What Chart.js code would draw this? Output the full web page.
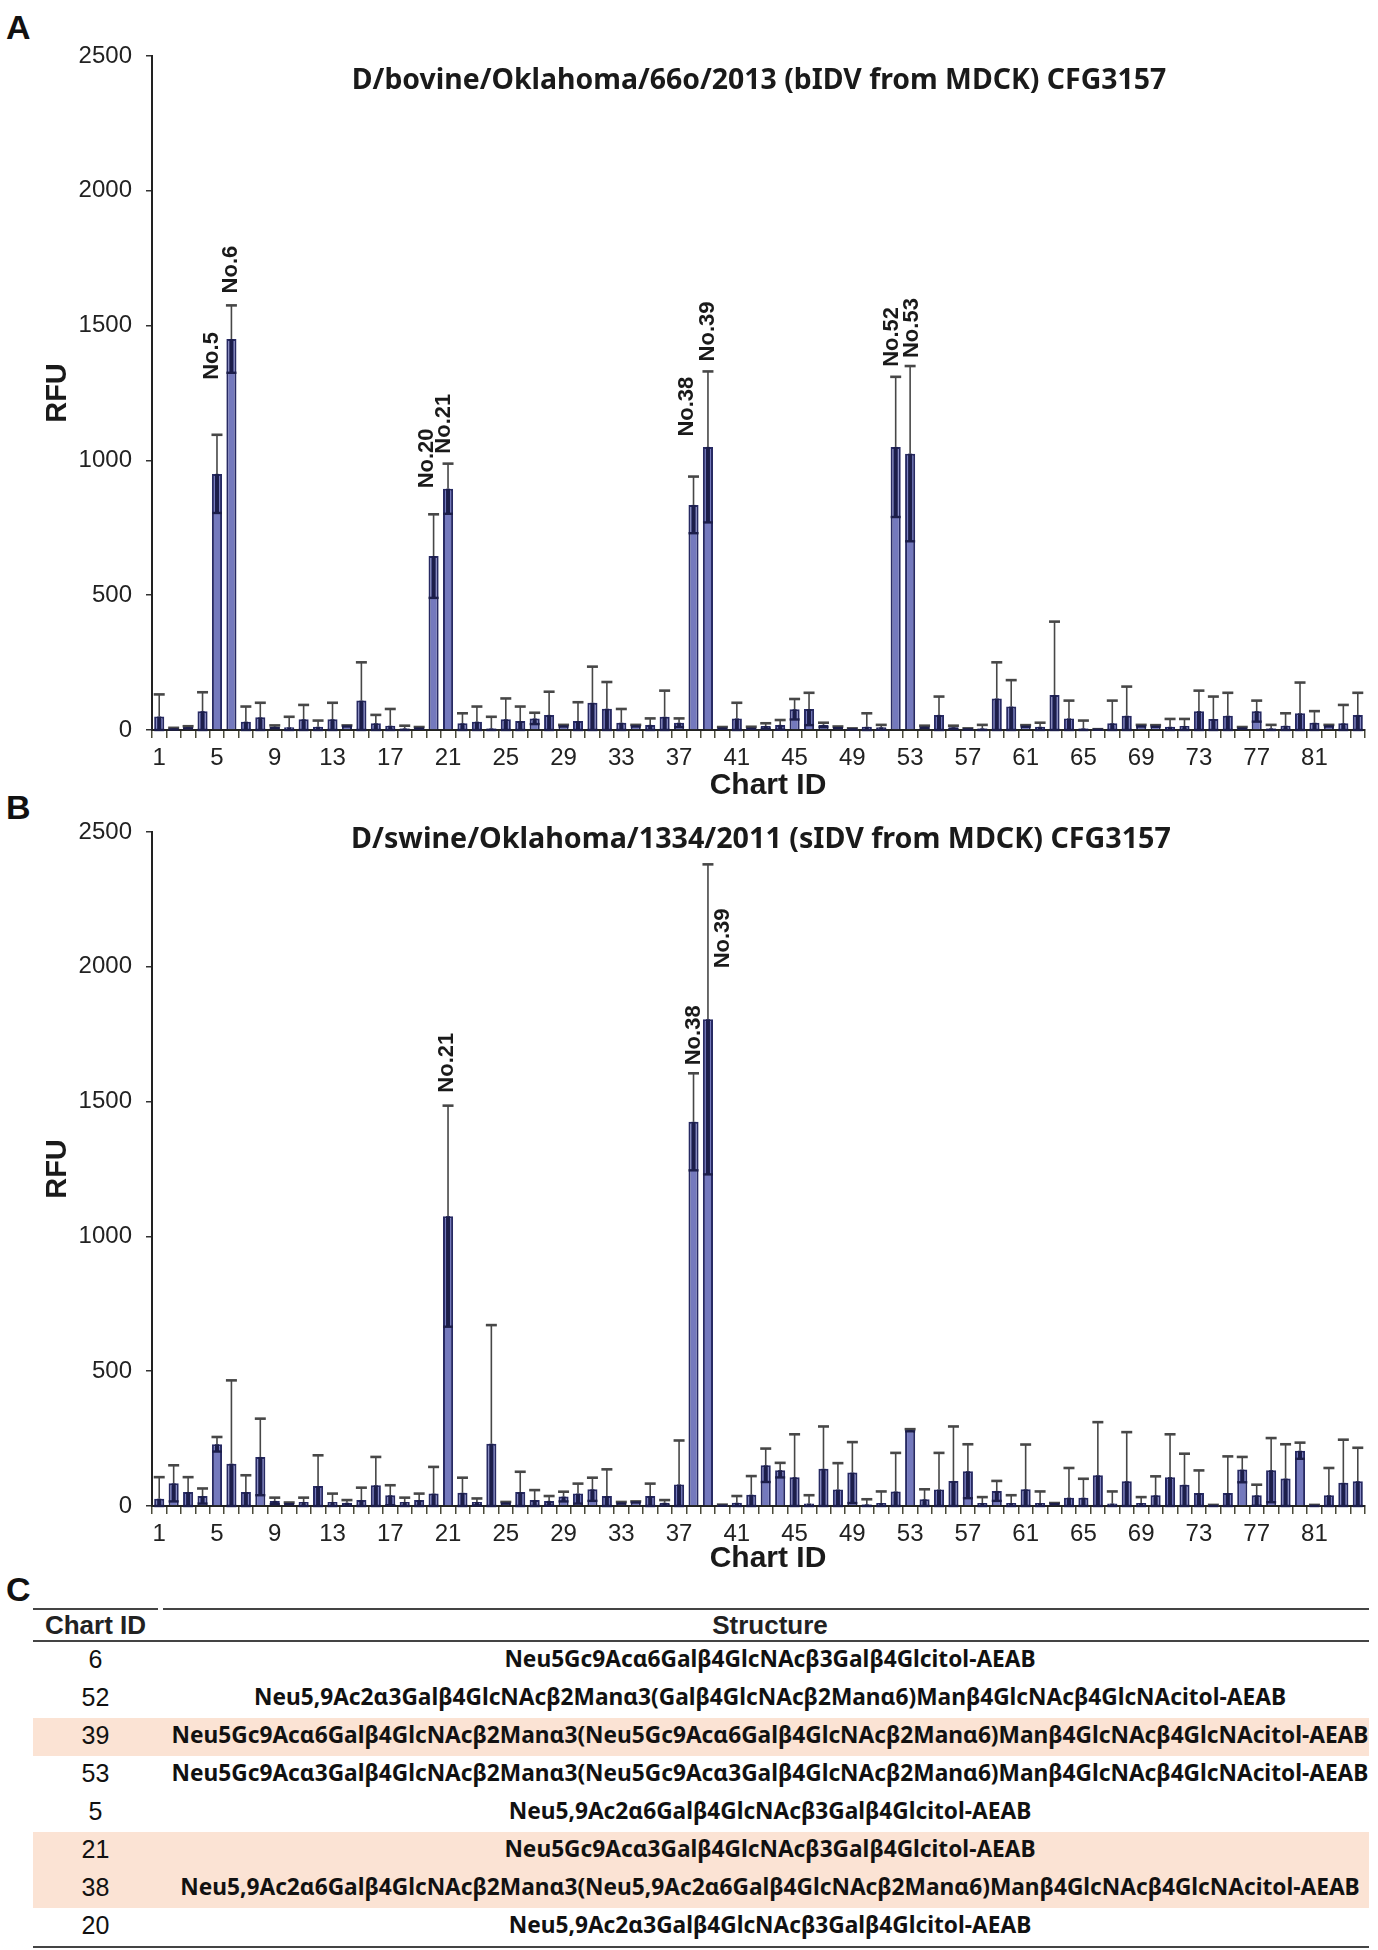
<!DOCTYPE html>
<html>
<head>
<meta charset="utf-8">
<title>CFG3157 glycan array</title>
<script src="https://cdn.jsdelivr.net/npm/chart.js@4.4.1/dist/chart.umd.min.js"></script>
<style>
  body { margin: 0; background: #fff; width: 1378px; height: 1950px; position: relative; overflow: hidden; }
  canvas { position: absolute; left: 0; }
  #chartA { top: 0; }
  #chartB { top: 800px; }
  .letter { position: absolute; left: 6px; font: bold 34px 'Liberation Sans', Arial, sans-serif; color: #111; line-height: 1; }
  .topline { position: absolute; top: 1608px; height: 2px; background: #444; }
  #tbl { position: absolute; left: 33px; top: 1610px; width: 1336px; border-collapse: collapse; table-layout: fixed; }
  #tbl th { font: bold 26px 'Liberation Sans', Arial, sans-serif; color: #222; height: 30px; padding: 0; line-height: 30px; white-space: nowrap; border-bottom: 2px solid #444; }
  #tbl td { height: 34px; padding: 0 0 4px 0; line-height: 30px; color: #111; white-space: nowrap; }
  #tbl td.id { font-family: 'Liberation Sans', Arial, sans-serif; font-size: 25px; text-align: center; }
  #tbl td.st { text-align: center; padding-left: 13px; font-family: 'Noto Sans', sans-serif; font-weight: 700; }
  #tbl tr.hl td { background: #fbe3d4; }
  #tbl tr:last-child td { border-bottom: 2px solid #444; }
</style>
</head>
<body>
<div class="letter" style="top:10px">A</div>
<div class="letter" style="top:790px">B</div>
<div class="letter" style="top:1572px">C</div>
<canvas id="chartA" width="1378" height="800"></canvas>
<canvas id="chartB" width="1378" height="790"></canvas>
<div class="topline" style="left:33px;width:125px"></div>
<div class="topline" style="left:163px;width:1206px"></div>
<table id="tbl"><colgroup><col style="width:125px"><col></colgroup><thead><tr><th>Chart ID</th><th style="padding-left:13px">Structure</th></tr></thead><tbody></tbody></table>

<script>
// Chart IDs on the x axis
const chartIds = [1, 2, 3, 4, 5, 6, 7, 8, 9, 10, 11, 12, 13, 14, 15, 16, 17, 18, 19, 20,
  21, 22, 23, 24, 25, 26, 27, 28, 29, 30, 31, 32, 33, 34, 35, 36, 37, 38, 39, 40,
  41, 42, 43, 44, 45, 46, 47, 48, 49, 50, 51, 52, 53, 54, 55, 56, 57, 58, 59, 60,
  61, 62, 63, 64, 65, 66, 67, 68, 69, 70, 71, 72, 73, 74, 75, 76, 77, 78, 79, 80,
  81, 82, 83, 84];
const shownTicks = [1, 5, 9, 13, 17, 21, 25, 29, 33, 37, 41, 45, 49, 53, 57, 61, 65, 69, 73, 77, 81];

// Panel A - bIDV (mean RFU and error)
const bovineMean = [50, 5, 10, 70, 950, 1450, 31, 47, 12, 10, 40, 12, 40, 15, 109, 25, 16, 6, 8, 645,
  895, 25, 31, 6, 40, 33, 43, 56, 16, 33, 101, 79, 27, 16, 19, 49, 27, 835, 1050, 8,
  43, 8, 15, 19, 77, 78, 19, 10, 4, 12, 10, 1050, 1025, 12, 56, 10, 4, 6, 117, 87,
  15, 12, 130, 43, 6, 2, 25, 53, 16, 15, 12, 15, 70, 41, 53, 8, 70, 6, 16, 62,
  27, 16, 25, 56];
const bovineErr = [82, 3, 4, 70, 145, 125, 56, 54, 5, 39, 53, 23, 61, 2, 142, 31, 62, 10, 3, 155,
  93, 37, 56, 43, 77, 54, 21, 86, 3, 70, 134, 99, 51, 3, 24, 97, 16, 105, 280, 3,
  58, 4, 10, 18, 38, 60, 8, 3, 2, 50, 9, 260, 325, 4, 68, 6, 2, 13, 134, 98,
  3, 15, 272, 66, 29, 1, 84, 108, 3, 3, 29, 26, 76, 83, 85, 3, 39, 13, 46, 114,
  43, 3, 68, 82];

// Panel B - sIDV (mean RFU and error)
const swineMean = [27, 84, 52, 37, 229, 157, 52, 182, 19, 10, 15, 74, 15, 12, 22, 77, 40, 15, 22, 46,
  1075, 49, 15, 231, 12, 52, 22, 19, 35, 46, 62, 37, 12, 15, 37, 12, 80, 1425, 1805, 3,
  12, 42, 151, 133, 107, 9, 138, 61, 124, 6, 11, 54, 281, 25, 61, 93, 129, 11, 56, 11,
  62, 11, 9, 31, 31, 114, 9, 92, 11, 40, 107, 79, 48, 2, 48, 135, 40, 133, 102, 205,
  2, 40, 86, 92];
const swineErr = [80, 67, 55, 28, 27, 309, 62, 142, 12, 3, 16, 114, 31, 10, 46, 105, 37, 16, 24, 99,
  410, 56, 13, 440, 3, 75, 37, 18, 18, 37, 43, 99, 3, 2, 46, 10, 163, 180, 575, 2,
  25, 69, 62, 27, 159, 31, 157, 98, 113, 19, 43, 143, 4, 37, 136, 202, 100, 22, 37, 29,
  166, 43, 2, 110, 70, 197, 45, 182, 22, 70, 159, 115, 84, 2, 136, 47, 39, 119, 127, 30,
  2, 101, 160, 124];

// labelled peaks
const peaksA = [5, 6, 20, 21, 38, 39, 52, 53];
const peaksB = [21, 38, 39];

// Panel C table
const tableIds = [6, 52, 39, 53, 5, 21, 38, 20];
const tableStructures = [
  'Neu5Gc9Acα6Galβ4GlcNAcβ3Galβ4Glcitol-AEAB',
  'Neu5,9Ac2α3Galβ4GlcNAcβ2Manα3(Galβ4GlcNAcβ2Manα6)Manβ4GlcNAcβ4GlcNAcitol-AEAB',
  'Neu5Gc9Acα6Galβ4GlcNAcβ2Manα3(Neu5Gc9Acα6Galβ4GlcNAcβ2Manα6)Manβ4GlcNAcβ4GlcNAcitol-AEAB',
  'Neu5Gc9Acα3Galβ4GlcNAcβ2Manα3(Neu5Gc9Acα3Galβ4GlcNAcβ2Manα6)Manβ4GlcNAcβ4GlcNAcitol-AEAB',
  'Neu5,9Ac2α6Galβ4GlcNAcβ3Galβ4Glcitol-AEAB',
  'Neu5Gc9Acα3Galβ4GlcNAcβ3Galβ4Glcitol-AEAB',
  'Neu5,9Ac2α6Galβ4GlcNAcβ2Manα3(Neu5,9Ac2α6Galβ4GlcNAcβ2Manα6)Manβ4GlcNAcβ4GlcNAcitol-AEAB',
  'Neu5,9Ac2α3Galβ4GlcNAcβ3Galβ4Glcitol-AEAB'
];
const highlighted = [39, 21, 38];

const AXIS_FONT = "'Liberation Sans', Arial, sans-serif";
const TITLE_FONT = "'Noto Sans', sans-serif";

const measurer = document.createElement('canvas').getContext('2d');
// font size that makes text span the given width
function fitSize(text, weight, family, width) {
  measurer.font = weight + ' 100px ' + family;
  return 100 * width / measurer.measureText(text).width;
}

// error bars: thin grey whisker up, thick dark whisker down
const errorBars = {
  id: 'errorBars',
  afterDatasetsDraw(chart) {
    const { ctx, scales: { x, y } } = chart;
    const ds = chart.data.datasets[0];
    ctx.save();
    ds.data.forEach((m, i) => {
      const e = ds.errors[i];
      const px = x.getPixelForValue(i);
      const yTop = y.getPixelForValue(m + e);
      const yMid = y.getPixelForValue(m);
      const yLow = y.getPixelForValue(Math.max(0, m - e));
      ctx.strokeStyle = '#474747';
      ctx.lineWidth = 1.6;
      ctx.beginPath(); ctx.moveTo(px, yMid); ctx.lineTo(px, yTop); ctx.stroke();
      ctx.lineWidth = 2.6;
      ctx.beginPath(); ctx.moveTo(px - 5.5, yTop); ctx.lineTo(px + 5.5, yTop); ctx.stroke();
      ctx.strokeStyle = '#1c1e4a';
      ctx.lineWidth = 4;
      ctx.beginPath(); ctx.moveTo(px, yMid); ctx.lineTo(px, yLow); ctx.stroke();
      ctx.lineWidth = 2.4;
      ctx.beginPath(); ctx.moveTo(px - 5, yLow); ctx.lineTo(px + 5, yLow); ctx.stroke();
    });
    ctx.restore();
  }
};

// titles, axis titles and peak labels
function makeDecor(p) {
  return {
    id: 'decor',
    afterDraw(chart) {
      const { ctx, chartArea: a, scales: { x, y } } = chart;
      const ds = chart.data.datasets[0];
      ctx.save();
      ctx.fillStyle = '#1a1a1a';
      ctx.textAlign = 'center';
      ctx.textBaseline = 'middle';
      ctx.font = '700 ' + fitSize(p.title, '700', TITLE_FONT, p.titleWidth) + 'px ' + TITLE_FONT;
      ctx.fillText(p.title, p.titleX, p.titleY);
      ctx.font = 'bold 30px ' + AXIS_FONT;
      ctx.fillText('Chart ID', 768, a.bottom + p.xTitleGap);
      ctx.save();
      ctx.translate(58, (a.top + a.bottom) / 2);
      ctx.rotate(-Math.PI / 2);
      ctx.font = 'bold 29px ' + AXIS_FONT;
      ctx.fillText('RFU', 0, 0);
      ctx.restore();
      ctx.font = 'bold 22px ' + AXIS_FONT;
      ctx.textAlign = 'left';
      p.peaks.forEach((id, k) => {
        const i = chartIds.indexOf(id);
        const px = x.getPixelForValue(i) + p.peakDx[k];
        const py = y.getPixelForValue(ds.data[i] + ds.errors[i]) - p.peakGap[k];
        ctx.save();
        ctx.translate(px, py);
        ctx.rotate(-Math.PI / 2);
        ctx.fillText('No.' + id, 0, 0);
        ctx.restore();
      });
      ctx.restore();
    }
  };
}

function makeChart(canvasId, means, errs, p) {
  const ctx = document.getElementById(canvasId).getContext('2d');
  return new Chart(ctx, {
    type: 'bar',
    data: {
      labels: chartIds,
      datasets: [{
        data: means,
        errors: errs,
        backgroundColor: '#7479bd',
        borderColor: '#272a63',
        borderWidth: 2,
        borderSkipped: 'start',
        barPercentage: 0.7,
        categoryPercentage: 1
      }]
    },
    options: {
      responsive: false,
      animation: false,
      layout: { padding: { top: p.padTop, right: 13, left: 0, bottom: 0 } },
      plugins: { legend: { display: false }, tooltip: { enabled: false } },
      scales: {
        x: {
          type: 'category',
          offset: true,
          grid: { offset: true, drawOnChartArea: false, tickLength: 8, color: '#4a4a3a', lineWidth: 1.5 },
          border: { display: true, color: '#222', width: 2 },
          ticks: {
            autoSkip: false, maxRotation: 0, minRotation: 0, padding: 6, color: '#222',
            font: { family: AXIS_FONT, size: 24 },
            callback: (v, i) => shownTicks.includes(chartIds[i]) ? String(chartIds[i]) : ''
          },
          afterFit(s) { s.height = p.xHeight; }
        },
        y: {
          min: 0, max: 2500,
          ticks: {
            stepSize: 500, padding: 14, color: '#222', font: { family: AXIS_FONT, size: 24 },
            callback: v => String(v)
          },
          grid: { drawOnChartArea: false, tickLength: 6, color: '#333', lineWidth: 1.5 },
          border: { display: true, color: '#222', width: 2 },
          afterFit(s) { s.width = 152; }
        }
      }
    },
    plugins: [errorBars, makeDecor(p)]
  });
}

makeChart('chartA', bovineMean, bovineErr, {
  title: 'D/bovine/Oklahoma/66o/2013 (bIDV from MDCK) CFG3157',
  titleX: 759, titleY: 81, titleWidth: 815,
  padTop: 56, xHeight: 70, xTitleGap: 56,
  peaks: peaksA,
  peakDx: [-5, 0, -7, -4, -7, 0, -4, 2],
  peakGap: [55, 12, 26, 10, 40, 10, 10, 8]
});

makeChart('chartB', swineMean, swineErr, {
  title: 'D/swine/Oklahoma/1334/2011 (sIDV from MDCK) CFG3157',
  titleX: 761, titleY: 40, titleWidth: 820,
  padTop: 32, xHeight: 84, xTitleGap: 53,
  peaks: peaksB,
  peakDx: [-1, 0, 15],
  peakGap: [13, 8, -104]
});

// Panel C table
const longest = tableStructures.reduce((a, b) => b.length > a.length ? b : a);
const stSize = fitSize(longest, '700', TITLE_FONT, 1197);
const tbody = document.querySelector('#tbl tbody');
tableIds.forEach((id, i) => {
  const tr = document.createElement('tr');
  if (highlighted.includes(id)) tr.className = 'hl';
  const tdId = document.createElement('td');
  tdId.className = 'id';
  tdId.textContent = id;
  const tdSt = document.createElement('td');
  tdSt.className = 'st';
  tdSt.style.fontSize = stSize + 'px';
  tdSt.textContent = tableStructures[i];
  tr.appendChild(tdId);
  tr.appendChild(tdSt);
  tbody.appendChild(tr);
});
</script>
</body>
</html>
